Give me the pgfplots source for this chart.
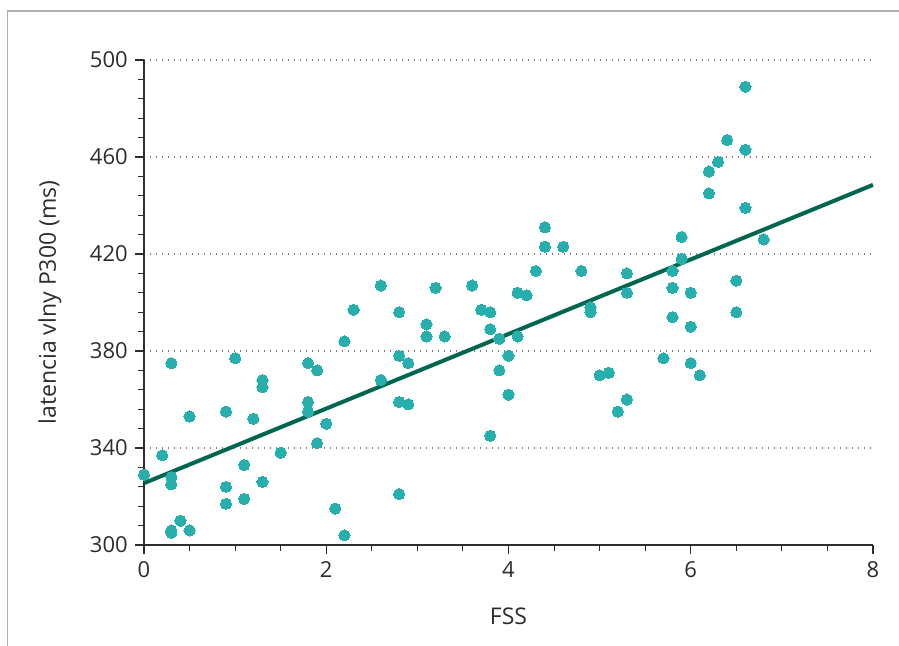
\documentclass[border=0pt]{standalone}
\usepackage{fontspec}
\setmainfont{Open Sans}
\usepackage{pgfplots}
\pgfplotsset{compat=1.18}
\definecolor{dotc}{RGB}{38,175,173}
\definecolor{linec}{RGB}{0,102,80}
\definecolor{txt}{RGB}{45,45,45}
\definecolor{framec}{RGB}{175,175,175}
\begin{document}
\begin{tikzpicture}
\path[use as bounding box] (0,0) rectangle (449.5pt,323pt);
\draw[framec, line width=0.7pt] (3.75pt,0) -- (3.75pt,317.5pt) -- (449.5pt,317.5pt);
\begin{axis}[
  at={(72pt,50.5pt)}, anchor=south west,
  scale only axis, width=364.5pt, height=242.5pt,
  xmin=0, xmax=8, ymin=300, ymax=500,
  axis lines=left, axis line style={-, txt, line width=0.55pt},
  xtick={0,2,4,6,8}, ytick={300,340,...,500},
  minor x tick num=3, minor y tick num=4,
  tick align=outside, tick style={txt, line width=0.55pt},
  major tick length=4.6pt, minor tick length=3pt,
  ymajorgrids, grid style={gray, line width=0.55pt, dash pattern=on 0.55pt off 2.45pt},
  clip=false,
  /pgf/number format/assume math mode=true,
  ticklabel style={font=\fontsize{11}{13}\selectfont, text=txt},
  label style={font=\fontsize{11.5}{13}\selectfont, text=txt},
  xlabel={FSS}, ylabel={latencia vlny P300 (ms)},
  xlabel style={at={(axis description cs:0.5,-0.148)}, anchor=center},
  ylabel style={at={(axis description cs:-0.129,0.5)}, anchor=center, rotate=0},
]
\addplot[only marks, color=dotc, mark=*, mark size=2.8pt, mark options={draw=dotc, fill=dotc, line width=0pt}] coordinates {
(0,329) (0.2,337) (0.3,375) (0.3,328) (0.3,325) (0.3,306) (0.3,305) (0.4,310)
(0.5,353) (0.5,306) (0.9,355) (0.9,324) (0.9,317) (1.0,377) (1.1,333) (1.1,319)
(1.2,352) (1.3,368) (1.3,365) (1.3,326) (1.5,338) (1.8,375) (1.8,359) (1.8,355)
(1.9,372) (1.9,342) (2.0,350) (2.1,315) (2.2,384) (2.2,304) (2.3,397) (2.6,407)
(2.6,368) (2.8,396) (2.8,378) (2.8,359) (2.8,321) (2.9,375) (2.9,358) (3.1,391)
(3.1,386) (3.2,406) (3.3,386) (3.6,407) (3.7,397) (3.8,396) (3.8,389) (3.8,345)
(3.9,385) (3.9,372) (4.0,378) (4.0,362) (4.1,404) (4.1,386) (4.2,403) (4.3,413)
(4.4,431) (4.4,423) (4.6,423) (4.8,413) (4.9,398) (4.9,396) (5.0,370) (5.1,371)
(5.2,355) (5.3,412) (5.3,404) (5.3,360) (5.7,377) (5.8,413) (5.8,406) (5.8,394)
(5.9,427) (5.9,418) (6.0,404) (6.0,390) (6.0,375) (6.1,370) (6.2,454) (6.2,445)
(6.3,458) (6.4,467) (6.5,409) (6.5,396) (6.6,489) (6.6,463) (6.6,439) (6.8,426)
};
\addplot[linec, line width=2pt] coordinates {(0,325.5) (8,448.5)};
\end{axis}
\end{tikzpicture}
\end{document}
